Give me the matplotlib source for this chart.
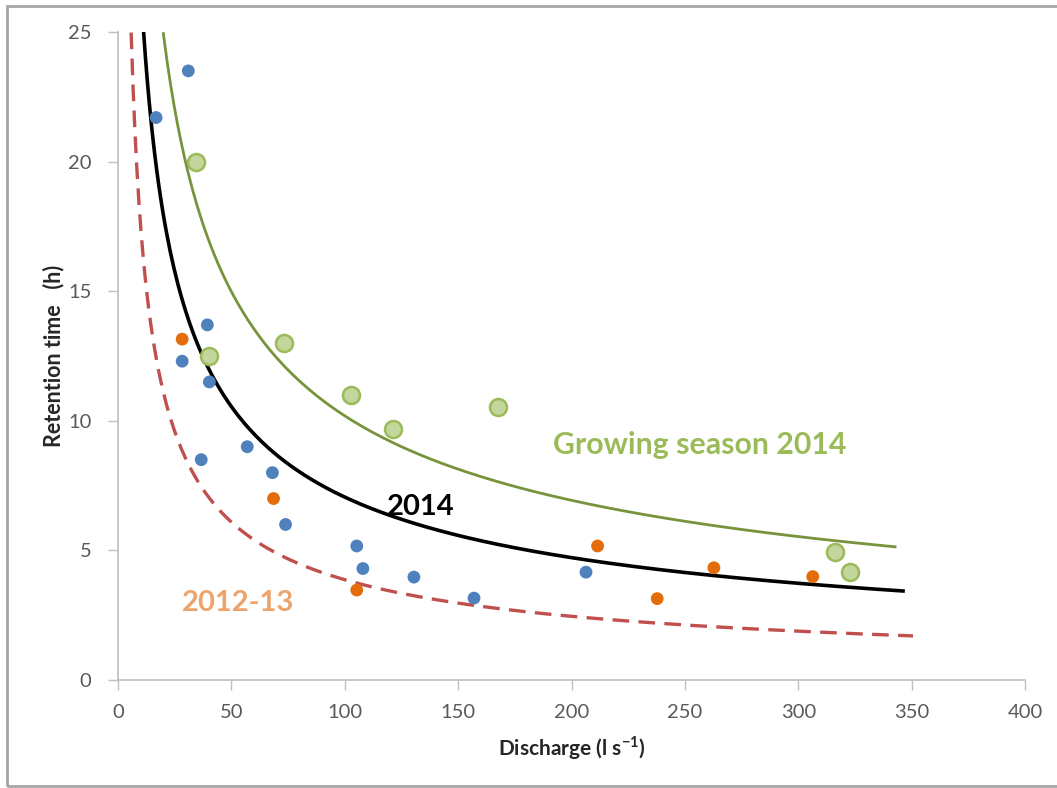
import numpy as np
import matplotlib
matplotlib.use("Agg")
import matplotlib.pyplot as plt
from matplotlib.patches import Rectangle

plt.rcParams['font.family'] = ['Lato', 'DejaVu Sans']
plt.rcParams['mathtext.fontset'] = 'custom'
plt.rcParams['mathtext.rm'] = 'Lato'
plt.rcParams['mathtext.bf'] = 'Lato:bold'

# ---- data ----
blue_x = [16.8, 31, 39.4, 28.3, 40.3, 36.7, 57, 68.1, 73.9, 105.3, 108, 130.5, 157, 206.4]
blue_y = [21.7, 23.5, 13.7, 12.3, 11.5, 8.5, 9.0, 8.0, 6.0, 5.17, 4.3, 3.97, 3.16, 4.16]

orange_x = [28.3, 68.6, 105.3, 211.5, 237.8, 262.8, 306.4]
orange_y = [13.15, 7.0, 3.47, 5.17, 3.14, 4.33, 3.99]

green_x = [34.5, 40.3, 73, 102.7, 121.2, 167.7, 316.2, 322.8]
green_y = [20.0, 12.5, 13.0, 11.0, 9.68, 10.53, 4.95, 4.16]

# power-law trend lines  y = a * x^b  (coefficients and x-range)
fit_2014 = dict(a=102.0, b=-0.58, x0=11.2, x1=347.0)
fit_grow = dict(a=131.9, b=-0.556, x0=20.0, x1=342.7)
fit_1213 = dict(a=79.0, b=-0.655, x0=5.8, x1=350.6)

x_ticks = [0, 50, 100, 150, 200, 250, 300, 350, 400]
y_ticks = [0, 5, 10, 15, 20, 25]

# ---- figure ----
fig = plt.figure(figsize=(10.57, 7.88), dpi=100)
ax = fig.add_axes([118/1057, 1-680/788, (1025-118)/1057, (680-32)/788])

def trend(f):
    xs = np.linspace(f['x0'], f['x1'], 400)
    return xs, f['a'] * xs ** f['b']

xs, ys = trend(fit_1213)
ax.plot(xs, ys, color='#C0504D', lw=2.4, dashes=(5, 2.8), zorder=2)
xs, ys = trend(fit_2014)
ax.plot(xs, ys, color='black', lw=2.6, zorder=2, solid_capstyle='butt')
xs, ys = trend(fit_grow)
ax.plot(xs, ys, color='#77933C', lw=2.0, zorder=2)

ax.scatter(blue_x, blue_y, s=85, color='#4F81BD', edgecolors='none', zorder=3)
ax.scatter(orange_x, orange_y, s=85, color='#E46C0A', edgecolors='none', zorder=3)
ax.scatter(green_x, green_y, s=150, color='#C3D69B', edgecolors='#9BBB59', linewidths=1.8, zorder=3)

ax.set_xlim(0, 400)
ax.set_ylim(0, 25)
ax.set_xticks(x_ticks)
ax.set_yticks(y_ticks)
for s in ['top', 'right']:
    ax.spines[s].set_visible(False)
for s in ['left', 'bottom']:
    ax.spines[s].set_color('#BFBFBF')
    ax.spines[s].set_linewidth(1.2)
ax.tick_params(axis='both', direction='out', length=7, width=1.0, color='#BFBFBF',
               labelsize=14.5, labelcolor='#595959')
ax.tick_params(axis='x', pad=10)
ax.tick_params(axis='y', pad=12)

ax.set_xlabel(r'Discharge (l s$^{\mathbf{-1}}$)', fontsize=15, fontweight='bold',
              color='#262626', labelpad=10)
ax.set_ylabel('Retention time   (h)', fontsize=15.5, fontweight='bold',
              color='#262626', labelpad=3)

ax.text(256.7, 9.07, 'Growing season 2014', color='#9BBB59', fontsize=21.8,
        fontweight='bold', ha='center', va='center')
ax.text(133.6, 6.67, '2014', color='black', fontsize=21,
        fontweight='bold', ha='center', va='center')
ax.text(52.9, 2.97, '2012-13', color='#EDA36C', fontsize=21,
        fontweight='bold', ha='center', va='center')

fig.add_artist(Rectangle((7/1057, 1-786/788), 1.2, (786-6)/788, transform=fig.transFigure,
                         fill=False, edgecolor='#A6A6A6', lw=2.0))

fig.savefig('out.png', dpi=100)
